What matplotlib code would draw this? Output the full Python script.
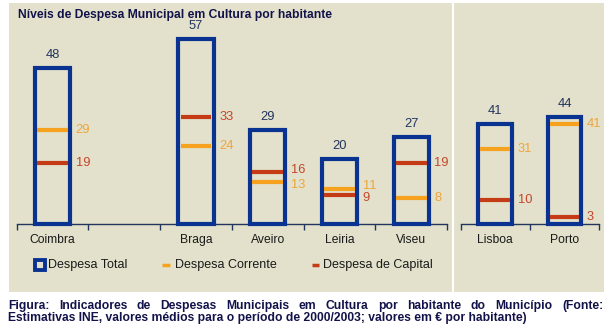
import matplotlib
matplotlib.use("Agg")
import matplotlib.pyplot as plt
from matplotlib.patches import Rectangle
from matplotlib.lines import Line2D

plt.rcParams['font.family'] = ['Liberation Sans', 'DejaVu Sans']

# despesa municipal em cultura, euros por habitante (media 2000/2003)
municipios = ['Coimbra', '', 'Braga', 'Aveiro', 'Leiria', 'Viseu']
total = [48, None, 57, 29, 20, 27]
corrente = [29, None, 24, 13, 11, 8]
capital = [19, None, 33, 16, 9, 19]

municipios_lp = ['Lisboa', 'Porto']
total_lp = [41, 44]
corrente_lp = [31, 41]
capital_lp = [10, 3]

titulo = 'Níveis de Despesa Municipal em Cultura por habitante'
legenda = ['Despesa Total', 'Despesa Corrente', 'Despesa de Capital']
nota = ['Figura: Indicadores de Despesas Municipais em Cultura por habitante do Município (Fonte:',
        'Estimativas INE, valores médios para o período de 2000/2003; valores em € por habitante)']

BEGE = '#E3E1CB'
AZUL = '#0A3391'
NAVY = '#22355F'
LARANJA = '#F6A21E'
LARANJA_T = '#EFA53A'
VERMELHO = '#C53B16'
VERMELHO_T = '#C4462A'
TXT = '#12124A'

W, H = 615, 326
fig = plt.figure(figsize=(W / 100, H / 100), dpi=100)
fig.patch.set_facecolor('white')

# camada de fundo em coordenadas de pixel
bg = fig.add_axes([0, 0, 1, 1])
bg.set_xlim(0, W)
bg.set_ylim(H, 0)
bg.axis('off')
bg.add_patch(Rectangle((9, 3), 595, 289, color=BEGE, lw=0))
bg.plot([453, 453], [3, 292], color='white', lw=1.5)


def px_axes(x0, x1, y0, y1):
    return fig.add_axes([x0 / W, 1 - y1 / H, (x1 - x0) / W, (y1 - y0) / H])


def painel(ax, nomes, tot, cor, cap, ymax):
    n = len(nomes)
    ax.set_xlim(-0.5, n - 0.5)
    ax.set_ylim(0, ymax)
    ax.patch.set_alpha(0)
    for s in ('top', 'left', 'right'):
        ax.spines[s].set_visible(False)
    ax.spines['bottom'].set_color(NAVY)
    ax.spines['bottom'].set_linewidth(1)
    ax.set_yticks([])
    ax.set_xticks(range(n))
    ax.set_xticklabels(nomes, fontsize=8.7, color='#1a1a1a')
    ax.set_xticks([i - 0.5 for i in range(n + 1)], minor=True)
    ax.tick_params(axis='x', which='major', length=0, pad=7)
    ax.tick_params(axis='x', which='minor', length=4, width=1, color=NAVY)

    for i in range(n):
        if tot[i] is None:
            continue
        ax.add_patch(Rectangle((i - 0.245, 0), 0.49, tot[i], fill=False,
                               ec=AZUL, lw=3, joinstyle='miter', clip_on=False, zorder=3))
        ax.annotate(str(tot[i]), (i, tot[i]), xytext=(0, 5), textcoords='offset points',
                    ha='center', va='bottom', fontsize=9.3, color=NAVY)
        perto = abs(cor[i] - cap[i]) < 4
        for v, outro, c, ct in ((cor[i], cap[i], LARANJA, LARANJA_T),
                                (cap[i], cor[i], VERMELHO, VERMELHO_T)):
            ax.plot([i - 0.215, i + 0.215], [v, v], color=c, lw=3,
                    solid_capstyle='butt', zorder=4)
            dy = (2 if v > outro else -2) if perto else 0
            ax.annotate(str(v), (i + 0.245, v), xytext=(4, dy), textcoords='offset points',
                        ha='left', va='center', fontsize=9.3, color=ct)


ax1 = px_axes(16.7, 447, 29.3, 224.3)
painel(ax1, municipios, total, corrente, capital, 60)
ax2 = px_axes(460.7, 599.1, 29.3, 224.3)
painel(ax2, municipios_lp, total_lp, corrente_lp, capital_lp, 80)

bg.text(18, 15, titulo, fontsize=8.75, fontweight='bold', color=TXT, va='center', ha='left')

# legenda desenhada a mao
bg.add_line(Line2D([40], [265], marker='s', markersize=7.2, markerfacecolor=BEGE,
                   markeredgecolor=AZUL, markeredgewidth=2.8))
bg.text(48, 265, legenda[0], fontsize=9, color='#1a1a1a', va='center')
bg.plot([162, 170], [265, 265], color=LARANJA, lw=2.5, solid_capstyle='butt')
bg.text(175, 265, legenda[1], fontsize=9, color='#1a1a1a', va='center')
bg.plot([312, 319], [265, 265], color=VERMELHO, lw=2.5, solid_capstyle='butt')
bg.text(323, 265, legenda[2], fontsize=9, color='#1a1a1a', va='center')

# nota de rodape, primeira linha justificada
fig.canvas.draw()
r = fig.canvas.get_renderer()
palavras = nota[0].split(' ')
objs = [bg.text(0, 309, p, fontsize=8.75, fontweight='bold', color=TXT, va='baseline')
        for p in palavras]
larg = [o.get_window_extent(r).width for o in objs]
x0, x1 = 8, 603
esp = (x1 - x0 - sum(larg)) / (len(palavras) - 1)
x = x0
for o, w in zip(objs, larg):
    o.set_x(x)
    x += w + esp
bg.text(8, 321, nota[1], fontsize=8.75, fontweight='bold', color=TXT, va='baseline')

fig.savefig('out.png', dpi=100, facecolor='white')
